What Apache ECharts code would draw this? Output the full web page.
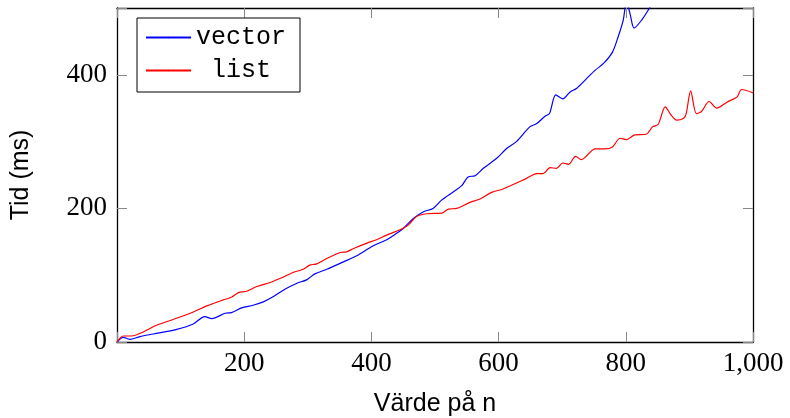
<!DOCTYPE html>
<html>
<head>
<meta charset="utf-8">
<script src="https://cdn.jsdelivr.net/npm/echarts@6/dist/echarts.min.js"></script>
<style>
  html, body { margin: 0; padding: 0; background: #fff; }
  #main { width: 790px; height: 418px; }
</style>
</head>
<body>
<div id="main"></div>
<script>
// vector: n och tid (ms)
var vectorN = [0, 10, 20, 36, 57, 94, 120, 138, 149, 170, 180, 196, 214, 230, 246, 264, 283, 298, 311, 330,
    356, 377, 403, 424, 440, 450, 466, 482, 497, 510, 529, 542, 552, 563, 576, 597, 613, 628, 649, 660,
    673, 680, 690, 701, 712, 723, 738, 752, 765, 779, 788, 796, 801, 807, 813, 825, 838, 850]
var vectorMs = [0, 7, 4, 8, 12, 19, 27, 38, 35, 43, 44, 51, 55, 60, 68, 79, 88, 93, 102, 109,
    120, 129, 144, 153, 163, 170, 185, 195, 200, 212, 225, 234, 247, 249, 260, 275, 290, 300, 322, 327,
    338, 342, 370, 364, 374, 380, 394, 407, 417, 434, 457, 482, 510, 490, 470, 482, 501, 518]

// list
var listN = [0, 10, 23, 41, 62, 89, 120, 141, 167, 180, 191, 204, 220, 241, 256, 277, 293, 303, 314, 330,
    351, 361, 372, 393, 408, 424, 445, 458, 471, 487, 511, 521, 534, 555, 571, 589, 607, 628, 644, 660,
    670, 681, 691, 701, 710, 721, 730, 752, 767, 779, 791, 801, 814, 832, 842, 851, 862, 871, 880, 891,
    895, 902, 911, 919, 931, 943, 959, 975, 982, 1000]
var listMs = [0, 9, 9, 15, 25, 34, 45, 54, 63, 67, 74, 76, 83, 89, 95, 104, 109, 115, 117, 125,
    134, 135, 140, 148, 153, 160, 168, 175, 188, 192, 193, 199, 200, 209, 214, 224, 229, 238, 245, 252,
    252, 261, 260, 268, 266, 278, 273, 289, 289, 292, 305, 303, 310, 311, 322, 326, 352, 340, 332, 335,
    342, 376, 342, 345, 360, 350, 359, 367, 378, 373]

var xTicks = [0, 200, 400, 600, 800, 1000]
var yTicks = [0, 200, 400]

function pairs(xs, ys) {
    return xs.map(function (x, i) { return [x, ys[i]] })
}

var serif = 'Liberation Serif'
var sans = 'Liberation Sans'
var mono = 'Liberation Mono'

var tickStyle = { show: true, inside: true, length: 10, lineStyle: { color: '#888', width: 1 } }
var lineBlack = { show: true, onZero: false, lineStyle: { color: '#000', width: 1.3 } }

var myChart = echarts.init(document.getElementById('main'))
var option = {
    animation: false,
    backgroundColor: '#fff',
    grid: { left: 117, right: 37, top: 8, bottom: 76, outerBoundsMode: 'none' },
    legend: {
        orient: 'vertical',
        left: 137,
        top: 18,
        padding: [7, 14, 9, 8],
        itemGap: 8,
        itemWidth: 45,
        itemHeight: 2,
        backgroundColor: '#fff',
        borderColor: '#000',
        borderWidth: 1,
        textStyle: { fontFamily: mono, fontSize: 25, lineHeight: 25, color: '#000' },
        formatter: function (name) { return name === 'list' ? ' list ' : name },
        data: ['vector', 'list']
    },
    xAxis: [{
        type: 'value',
        min: 0, max: 1000, interval: 200,
        name: 'Värde på n',
        nameLocation: 'middle',
        nameGap: 50,
        nameTextStyle: { fontFamily: sans, fontSize: 25, color: '#000' },
        axisLine: lineBlack,
        axisTick: tickStyle,
        splitLine: { show: false },
        axisLabel: {
            fontFamily: serif, fontSize: 27, color: '#000', margin: 8,
            formatter: function (v) {
                if (xTicks.indexOf(v) <= 0) return ''
                return v >= 1000 ? '1,' + String(v).slice(1) : String(v)
            }
        }
    }, {
        type: 'value', position: 'top',
        min: 0, max: 1000, interval: 200,
        axisLine: lineBlack, axisTick: tickStyle,
        axisLabel: { show: false }, splitLine: { show: false }
    }],
    yAxis: [{
        type: 'value',
        min: 0, max: 500, interval: 200,
        name: 'Tid (ms)',
        nameLocation: 'middle',
        nameGap: 83,
        nameTextStyle: { fontFamily: sans, fontSize: 25, color: '#000' },
        axisLine: lineBlack,
        axisTick: tickStyle,
        splitLine: { show: false },
        axisLabel: {
            fontFamily: serif, fontSize: 27, color: '#000', margin: 10,
            formatter: function (v) { return yTicks.indexOf(v) < 0 ? '' : String(v) }
        }
    }, {
        type: 'value', position: 'right',
        min: 0, max: 500, interval: 200,
        axisLine: lineBlack, axisTick: tickStyle,
        axisLabel: { show: false }, splitLine: { show: false }
    }],
    series: [{
        name: 'vector',
        type: 'line',
        data: pairs(vectorN, vectorMs),
        smooth: 0.3,
        symbol: 'none',
        clip: true,
        color: '#0000ff',
        lineStyle: { color: '#0000ff', width: 1.2 }
    }, {
        name: 'list',
        type: 'line',
        data: pairs(listN, listMs),
        smooth: 0.3,
        symbol: 'none',
        clip: true,
        color: '#ff0000',
        lineStyle: { color: '#ff0000', width: 1.2 }
    }]
}
myChart.setOption(option)
</script>
</body>
</html>
